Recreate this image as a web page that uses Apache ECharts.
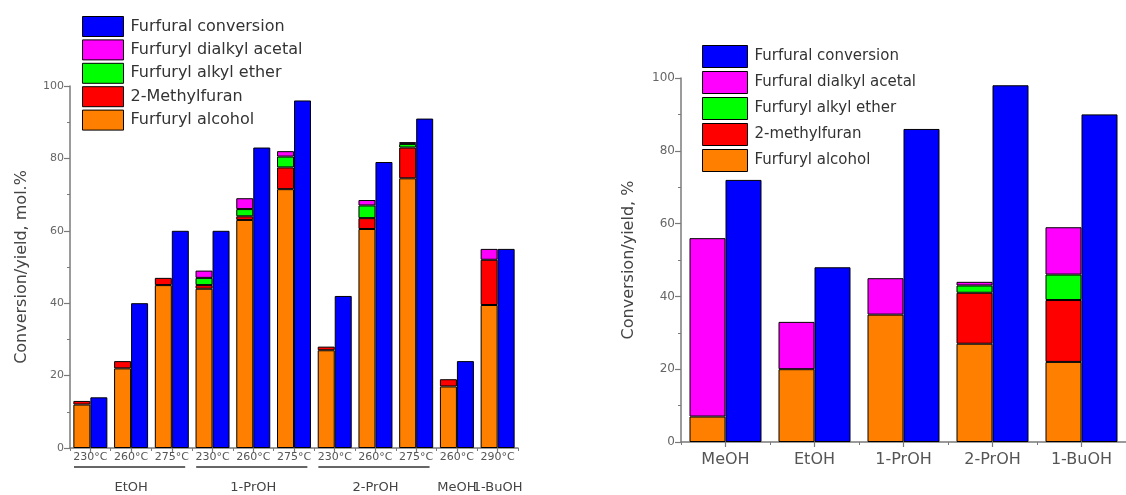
<!DOCTYPE html>
<html>
<head>
<meta charset="utf-8">
<script src="https://cdn.jsdelivr.net/npm/echarts@6/dist/echarts.min.js"></script>
<style>
  html, body { margin: 0; padding: 0; background: #fff; }
  #chart { width: 1126px; height: 495px; }
</style>
</head>
<body>
<div id="chart"></div>
<script>
// ---- Left panel: reaction temperature series for each alcohol ----
const tempLabels = ['230°C', '260°C', '275°C', '230°C', '260°C', '275°C', '230°C', '260°C', '275°C', '260°C', '290°C'];
const solventGroups = ['EtOH', '1-PrOH', '2-PrOH', 'MeOH', '1-BuOH'];
const solventGroupSizes = [3, 3, 3, 1, 1];

// stacked yields (each value is the height of its own segment), mol.%
const leftAlcohol      = [12, 22, 45, 44, 63, 71.5, 27, 60.5, 74.5, 17, 39.5];
const leftMethylfuran  = [1, 2, 2, 1, 1, 6, 1, 3, 8.5, 2, 12.5];
const leftEther        = [0, 0, 0, 2, 2, 3, 0, 3.5, 1, 0, 0];
const leftAcetal       = [0, 0, 0, 2, 3, 1.5, 0, 1.5, 0.5, 0, 3];
const leftConversion   = [14, 40, 60, 60, 83, 96, 42, 79, 91, 24, 55];

// ---- Right panel: solvent comparison ----
const solvents          = ['MeOH', 'EtOH', '1-PrOH', '2-PrOH', '1-BuOH'];
const rightAlcohol      = [7, 20, 35, 27, 22];
const rightMethylfuran  = [0, 0, 0, 14, 17];
const rightEther        = [0, 0, 0, 2, 7];
const rightAcetal       = [49, 13, 10, 1, 13];
const rightConversion   = [72, 48, 86, 98, 90];

const leftNames = {
  conv: 'Furfural conversion', acetal: 'Furfuryl dialkyl acetal', ether: 'Furfuryl alkyl ether',
  mf: '2-Methylfuran', alc: 'Furfuryl alcohol'
};
const rightNames = {
  conv: 'Furfural conversion', acetal: 'Furfural dialkyl acetal', ether: 'Furfuryl alkyl ether',
  mf: '2-methylfuran', alc: 'Furfuryl alcohol'
};

const COLORS = { conv: '#0000ff', acetal: '#ff00ff', ether: '#00ff00', mf: '#ff0000', alc: '#ff8000' };
const FONT = 'DejaVu Sans';
const AXIS = '#7a7a7a';

const nz = arr => arr.map(v => (v === 0 ? null : v));

function barSeries(name, color, values, axisIdx, stack, width) {
  return {
    type: 'bar', name, data: nz(values),
    xAxisIndex: axisIdx, yAxisIndex: axisIdx,
    stack: stack, barWidth: width, barGap: '0%',
    itemStyle: { color, borderColor: '#000', borderWidth: 1 },
    emphasis: { disabled: true }, animation: false
  };
}

function valueAxis(grid, name, gap, labelSize) {
  return {
    type: 'value', gridIndex: grid, min: 0, max: 100, interval: 20,
    name, nameLocation: 'middle', nameGap: gap,
    nameTextStyle: { fontFamily: FONT, fontSize: 16, color: '#444' },
    axisLine: { show: true, lineStyle: { color: AXIS, width: 1.5 } },
    axisTick: { show: true, length: 6, lineStyle: { color: AXIS, width: 1.2 } },
    minorTick: { show: true, splitNumber: 2, length: 3, lineStyle: { color: AXIS } },
    splitLine: { show: false },
    axisLabel: { fontFamily: FONT, fontSize: labelSize, color: '#666', margin: 6 }
  };
}

function categoryAxis(grid, data, labelSize, margin) {
  return {
    type: 'category', gridIndex: grid, data,
    axisLine: { show: true, lineStyle: { color: AXIS, width: 1.5 } },
    axisTick: { show: true, alignWithLabel: true, interval: 0, length: 5, lineStyle: { color: AXIS, width: 1.2 } },
    axisLabel: { interval: 0, fontFamily: FONT, fontSize: labelSize, color: '#555', margin }
  };
}

// short ticks at the category boundaries
function boundaryAxis(grid, data) {
  return {
    type: 'category', gridIndex: grid, data, position: 'bottom',
    axisLine: { show: false },
    axisTick: { show: true, interval: 0, length: 3, lineStyle: { color: AXIS } },
    axisLabel: { show: false }
  };
}

function legend(names, left, top, w, h, gap, size) {
  return {
    orient: 'vertical', left, top, padding: 0, itemWidth: w, itemHeight: h, itemGap: gap,
    icon: 'rect', selectedMode: false,
    itemStyle: { borderColor: '#000', borderWidth: 1 },
    textStyle: { fontFamily: FONT, fontSize: size, color: '#333', padding: [0, 0, 0, 2] },
    data: [names.conv, names.acetal, names.ether, names.mf, names.alc]
  };
}

const chart = echarts.init(document.getElementById('chart'), null, { renderer: 'canvas' });

const option = {
  backgroundColor: '#fff',
  animation: false,
  grid: [
    { left: 70, top: 86, width: 448, height: 362 },
    { left: 681, top: 78, width: 451, height: 364 }
  ],
  legend: [
    legend(leftNames, 82, 16, 41, 20, 2.4, 16),
    legend(rightNames, 702, 45, 45, 22, 3, 15)
  ],
  xAxis: [
    categoryAxis(0, tempLabels, 11, 4),
    categoryAxis(1, solvents, 16, 10),
    boundaryAxis(0, tempLabels),
    boundaryAxis(1, solvents)
  ],
  yAxis: [
    valueAxis(0, 'Conversion/yield, mol.%', 40, 11),
    valueAxis(1, 'Conversion/yield, %', 44, 12)
  ],
  series: [
    barSeries(leftNames.alc, COLORS.alc, leftAlcohol, 0, 'left', 17),
    barSeries(leftNames.mf, COLORS.mf, leftMethylfuran, 0, 'left', 17),
    barSeries(leftNames.ether, COLORS.ether, leftEther, 0, 'left', 17),
    barSeries(leftNames.acetal, COLORS.acetal, leftAcetal, 0, 'left', 17),
    barSeries(leftNames.conv, COLORS.conv, leftConversion, 0, null, 17),

    barSeries(rightNames.alc, COLORS.alc, rightAlcohol, 1, 'right', 36),
    barSeries(rightNames.mf, COLORS.mf, rightMethylfuran, 1, 'right', 36),
    barSeries(rightNames.ether, COLORS.ether, rightEther, 1, 'right', 36),
    barSeries(rightNames.acetal, COLORS.acetal, rightAcetal, 1, 'right', 36),
    barSeries(rightNames.conv, COLORS.conv, rightConversion, 1, null, 36)
  ]
};
chart.setOption(option);

// Solvent names under the temperature labels, with a rule under each multi-temperature group
(function drawGroupLabels() {
  const xAt = i => chart.convertToPixel({ xAxisIndex: 0 }, i);
  const band = xAt(1) - xAt(0);
  const baseY = chart.convertToPixel({ yAxisIndex: 0 }, 0);
  const elements = [];
  let start = 0;
  solventGroups.forEach((name, g) => {
    const size = solventGroupSizes[g];
    const first = xAt(start), last = xAt(start + size - 1);
    if (size > 1) {
      elements.push({
        type: 'line', silent: true,
        shape: { x1: first - band / 2 + 4, y1: baseY + 19, x2: last + band / 2 - 7, y2: baseY + 19 },
        style: { stroke: '#333', lineWidth: 1.5 }
      });
    }
    elements.push({
      type: 'text', silent: true,
      x: (first + last) / 2, y: baseY + 40,
      style: { text: name, fontFamily: FONT, fontSize: 13, fill: '#444', align: 'center', verticalAlign: 'middle' }
    });
    start += size;
  });
  chart.setOption({ graphic: elements });
})();
</script>
</body>
</html>
